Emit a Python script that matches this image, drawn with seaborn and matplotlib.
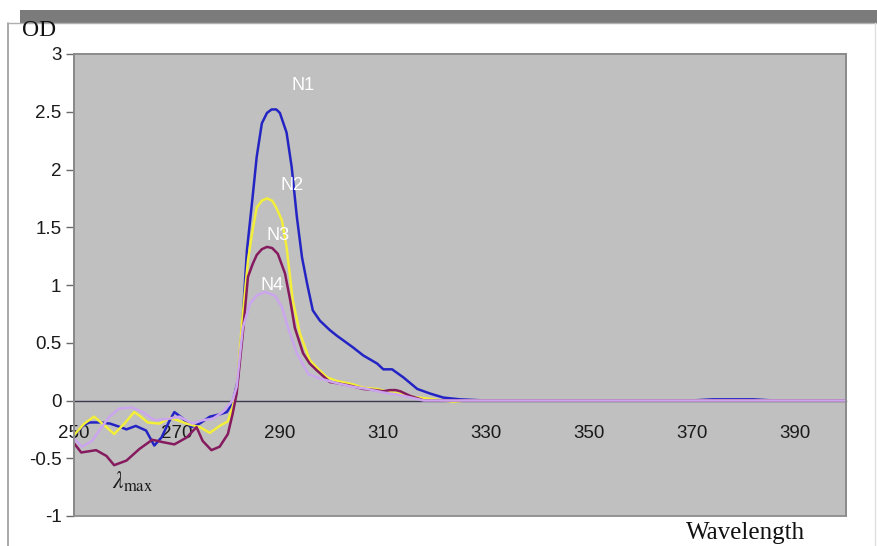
import numpy as np
import pandas as pd
import matplotlib
matplotlib.use("Agg")
import matplotlib.pyplot as plt
from matplotlib.patches import Rectangle
import seaborn as sns

# ---------------- data ----------------
n1_x = [250, 252, 253, 255, 257, 259, 260.2, 262, 264, 265.6, 267, 268.5, 269.5, 271, 272.8,
        274.4, 276.4, 278.3, 279.7, 280.8, 281.8, 282.8, 283.6, 284.7, 285.5, 286.5, 287.5,
        288.4, 289.3, 290, 291.3, 292.3, 293.3, 294.3, 295.3, 296.4, 297.8, 299.7, 301.1,
        304.2, 306.2, 308.9, 310.1, 311.8, 314, 316.7, 319.2, 321.8, 325, 330, 370, 374,
        378, 382, 386, 400]
n1_y = [-0.30, -0.21, -0.19, -0.19, -0.20, -0.23, -0.25, -0.22, -0.26, -0.39, -0.32, -0.18,
        -0.10, -0.15, -0.23, -0.20, -0.14, -0.12, -0.10, -0.02, 0.17, 0.72, 1.30, 1.76, 2.11,
        2.40, 2.49, 2.52, 2.52, 2.49, 2.32, 2.02, 1.59, 1.24, 1.01, 0.78, 0.69, 0.61, 0.56,
        0.46, 0.39, 0.32, 0.27, 0.27, 0.20, 0.10, 0.06, 0.025, 0.01, 0.0, 0.0, 0.01, 0.01,
        0.01, 0.0, 0.0]

n2_x = [250, 252, 253.9, 256.3, 257.8, 259.8, 261.7, 263, 264.3, 266.6, 268.6, 270, 271.9,
        274.4, 276.4, 278.3, 279.9, 280.8, 281.6, 282.6, 283.8, 284.6, 285.5, 286.5, 287.5,
        288.5, 289.3, 290.4, 291.3, 292.5, 293.9, 295.8, 297.5, 299.2, 301, 304.2, 306.2,
        308.9, 310.5, 313, 316, 320, 323.7, 326, 400]
n2_y = [-0.30, -0.20, -0.14, -0.23, -0.29, -0.20, -0.10, -0.14, -0.19, -0.20, -0.15, -0.17,
        -0.20, -0.23, -0.28, -0.22, -0.18, -0.06, 0.09, 0.65, 1.21, 1.45, 1.67, 1.73, 1.75,
        1.73, 1.67, 1.56, 1.33, 0.87, 0.58, 0.35, 0.27, 0.20, 0.17, 0.14, 0.11, 0.10, 0.08,
        0.06, 0.03, 0.01, -0.01, 0.0, 0.0]

n3_x = [250, 251.4, 254.3, 256.3, 257.8, 260.2, 262.7, 265.2, 267.2, 269.5, 271.9, 273.8, 275,
        276.7, 278.3, 279.9, 280.8, 281.6, 282.8, 283.8, 284.7, 285.5, 286.5, 287.5, 288.5,
        289.6, 291, 292, 292.9, 294.5, 295.8, 297.2, 299.7, 301.1, 303.5, 306.2, 308.5,
        310.1, 311.4, 312.5, 313.4, 315.3, 316.7, 318, 400]
n3_y = [-0.37, -0.45, -0.43, -0.48, -0.56, -0.52, -0.42, -0.34, -0.36, -0.38, -0.32, -0.23,
        -0.35, -0.43, -0.40, -0.29, -0.12, 0.06, 0.58, 1.07, 1.18, 1.26, 1.31, 1.33, 1.32,
        1.27, 1.10, 0.87, 0.63, 0.41, 0.32, 0.26, 0.16, 0.15, 0.13, 0.10, 0.09, 0.08, 0.09,
        0.09, 0.08, 0.04, 0.02, 0.0, 0.0]

n4_x = [250, 251.6, 253.5, 254.9, 256.9, 258.8, 261.3, 263.3, 265.6, 268, 270.5, 273, 275,
        276.9, 278.9, 280.8, 281.6, 282.8, 284.2, 285.5, 287.1, 289, 290.4, 291.6, 293.3,
        295.5, 297.8, 301.1, 304, 307, 310, 313, 316, 318, 400]
n4_y = [-0.33, -0.40, -0.35, -0.26, -0.14, -0.07, -0.06, -0.10, -0.17, -0.16, -0.14, -0.20,
        -0.17, -0.16, -0.10, 0.0, 0.12, 0.63, 0.84, 0.91, 0.94, 0.91, 0.81, 0.63, 0.41, 0.23,
        0.19, 0.15, 0.12, 0.10, 0.07, 0.05, 0.02, 0.0, 0.0]

series_names = ["N1", "N2", "N3", "N4"]
series_colors = ["#2424c4", "#f2ee3a", "#851a5e", "#cba6ee"]
label_pos_x = [294.5, 292.3, 289.6, 288.4]
label_pos_y = [2.73, 1.86, 1.43, 1.00]

x_ticks = [250, 270, 290, 310, 330, 350, 370, 390]
y_ticks = [-1, -0.5, 0, 0.5, 1, 1.5, 2, 2.5, 3]
y_tick_labels = ["-1", "-0.5", "0", "0.5", "1", "1.5", "2", "2.5", "3"]

frames = []
for name, xs, ys in zip(series_names, [n1_x, n2_x, n3_x, n4_x], [n1_y, n2_y, n3_y, n4_y]):
    frames.append(pd.DataFrame({"Wavelength": xs, "OD": ys, "series": name}))
df = pd.concat(frames, ignore_index=True)

# ---------------- figure ----------------
sns.set_style("white")
plt.rcParams["font.family"] = ["Liberation Sans", "DejaVu Sans"]
plt.rcParams["mathtext.fontset"] = "stix"

fig = plt.figure(figsize=(8.77, 5.46), dpi=100)
fig.patch.set_facecolor("white")

# top dark bar and outer frame
fig.patches.append(Rectangle((20 / 877, 1 - 23 / 546), 1 - 20 / 877, 13 / 546,
                             transform=fig.transFigure, facecolor="#7b7b7b",
                             edgecolor="none", zorder=0))
fig.add_artist(plt.Line2D([7.5 / 877, 7.5 / 877], [0, 1 - 23 / 546], transform=fig.transFigure,
                          color="#9a9a9a", lw=1.2))
fig.add_artist(plt.Line2D([7.5 / 877, 1], [1 - 23 / 546, 1 - 23 / 546], transform=fig.transFigure,
                          color="#b0b0b0", lw=1.0))
fig.add_artist(plt.Line2D([875 / 877, 875 / 877], [0, 1 - 23 / 546], transform=fig.transFigure,
                          color="#e0e0e0", lw=1.0))

ax = fig.add_axes([74 / 877, 1 - 516 / 546, (846 - 74) / 877, (516 - 54) / 546])
ax.set_facecolor("#c0c0c0")

sns.lineplot(data=df, x="Wavelength", y="OD", hue="series", hue_order=series_names,
             palette=series_colors, sort=False, estimator=None, lw=1.8, ax=ax,
             legend=False, zorder=3, solid_joinstyle="round", solid_capstyle="round")

ax.set_xlim(250, 400)
ax.set_ylim(-1, 3)

# frame
for side in ["top", "right", "left"]:
    ax.spines[side].set_visible(True)
    ax.spines[side].set_color("#8c8c8c")
    ax.spines[side].set_linewidth(1.3)
ax.spines["left"].set_color("#6a6a6a")
ax.add_patch(Rectangle((0, 0), 1, 1, transform=ax.transAxes, fill=False,
                       edgecolor="#8c8c8c", lw=1.3, zorder=5, clip_on=False))

# x axis crossing at zero
ax.spines["bottom"].set_visible(True)
ax.spines["bottom"].set_position(("data", 0))
ax.spines["bottom"].set_color("#3a3a50")
ax.spines["bottom"].set_linewidth(1.0)
ax.spines["bottom"].set_zorder(2)
ax.set_xticks(x_ticks)
ax.set_xticklabels([str(t) for t in x_ticks])
ax.tick_params(axis="x", direction="out", length=4, width=1, color="#3a3a50",
               pad=14, labelsize=13.5, labelcolor="#1a1a1a")

ax.set_yticks(y_ticks)
ax.set_yticklabels(y_tick_labels)
ax.tick_params(axis="y", direction="out", length=6, width=1, color="#6a6a6a",
               pad=3, labelsize=13.5, labelcolor="#1a1a1a", left=True)

ax.set_xlabel("")
ax.set_ylabel("")

# series labels
for name, lx, ly in zip(series_names, label_pos_x, label_pos_y):
    ax.text(lx, ly, name, color="white", fontsize=13, ha="center", va="center", zorder=6)

# lambda max annotation
ax.text(257.4, -0.70, r"$\lambda_{\mathrm{max}}$", fontsize=17, color="#1a1a1a",
        ha="left", va="center", zorder=6)

# axis titles
fig.text(22 / 877, 1 - 30 / 546, "OD", family=["Liberation Serif", "DejaVu Serif"],
         fontsize=17, ha="left", va="center", color="#111111")
fig.text(686 / 877, 1 - 533 / 546, "Wavelength", family=["Liberation Serif", "DejaVu Serif"],
         fontsize=18, ha="left", va="center", color="#111111")

fig.savefig("out.png", dpi=100, facecolor="white")
